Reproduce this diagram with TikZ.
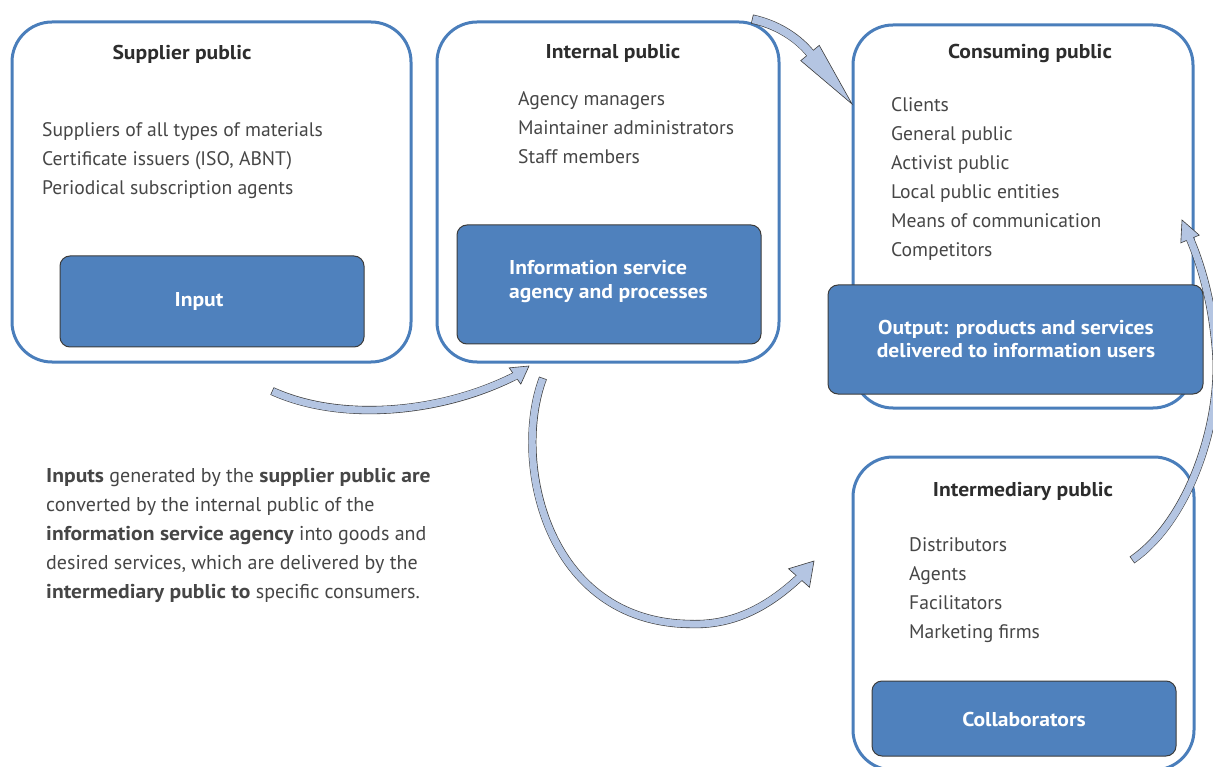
\documentclass[tikz,border=0pt]{standalone}
\usepackage{fontspec}
\setmainfont{PT Sans}[BoldFeatures={FakeStretch=1.08}]
\usetikzlibrary{calc}
\definecolor{boxblue}{RGB}{74,126,187}
\definecolor{fillblue}{RGB}{79,129,189}
\definecolor{arrowfill}{RGB}{180,197,226}
\definecolor{arrline}{RGB}{60,60,60}
\definecolor{txt}{RGB}{70,70,70}
\definecolor{ttl}{RGB}{45,45,45}
\newcommand{\fatarr}[6]{%
  \draw[draw=arrline, line width=#5] #1;
  \filldraw[fill=arrowfill, draw=arrline, line width=0.6pt, line join=miter]
    ($(#2)!#6!90:(#3)$) -- (#3) -- ($(#2)!#6!-90:(#3)$) -- cycle;
  \draw[draw=arrowfill, line width=#4, shorten >=-1.5pt, shorten <=0.7pt] #1;
}
\tikzset{
  outerbox/.style={draw=boxblue, line width=3pt, rounded corners=40pt, fill=white, inner sep=0pt},
  innerbox/.style={draw=arrline, line width=1pt, fill=fillblue, rounded corners=10pt, inner sep=0pt},
  itemtext/.style={text=txt, font=\fontsize{19.6}{29}\selectfont, align=left, inner sep=0pt},
  titletext/.style={text=ttl, font=\fontsize{20}{24}\selectfont\bfseries, inner sep=0pt},
  whitetext/.style={text=white, font=\fontsize{20}{24}\selectfont\bfseries, inner sep=0pt},
  paratext/.style={text=txt, font=\fontsize{20}{29}\selectfont, align=left, inner sep=0pt}
}
\begin{document}
\begin{tikzpicture}[x=1pt,y=-1pt]
\useasboundingbox (0,0) rectangle (1213,767);
\fill[white] (0,0) rectangle (1213,767);

% Supplier public
\node[outerbox, minimum width=399pt, minimum height=340pt] (sup) at (211.5,192) {};
\node[titletext] (supt) at (182,54) {Supplier public};
\node[itemtext, anchor=west] (supi) at (42,160.5) {Suppliers of all types of materials\\Certificate issuers (ISO, ABNT)\\Periodical subscription agents};
\node[innerbox, minimum width=304pt, minimum height=91pt] (inp) at (212,301.5) {};
\node[whitetext] (inpt) at (199,302) {Input};

% Internal public
\node[outerbox, minimum width=342pt, minimum height=340pt] (int) at (608,192) {};
\node[titletext] (intt) at (613,53) {Internal public};
\node[itemtext, anchor=west] (inti) at (518,127.5) {Agency managers\\Maintainer administrators\\Staff members};
\node[innerbox, minimum width=304pt, minimum height=119pt] (isa) at (609,284.5) {};
\node[whitetext, align=left, anchor=west] (isat) at (509,282) {Information service\\agency and processes};

% Consuming public
\node[outerbox, minimum width=340pt, minimum height=383pt] (con) at (1023,216.5) {};
\node[titletext] (cont) at (1030,53) {Consuming public};
\node[itemtext, anchor=west] (coni) at (891,179) {Clients\\General public\\Activist public\\Local public entities\\Means of communication\\Competitors};
\node[innerbox, minimum width=375pt, minimum height=109pt] (out) at (1015.5,339.5) {};
\node[whitetext, align=center] (outt) at (1016,339) {Output: products and services\\delivered to information users};

% Intermediary public
\node[outerbox, minimum width=341pt, minimum height=313pt] (itm) at (1023.5,613.5) {};
\node[titletext] (itmt) at (1023,491) {Intermediary public};
\node[itemtext, anchor=west] (itmi) at (909,590.5) {Distributors\\Agents\\Facilitators\\Marketing firms};
\node[innerbox, minimum width=304pt, minimum height=75pt] (col) at (1024,718.5) {};
\node[whitetext] (colt) at (1024,719) {Collaborators};

% Paragraph
\node[paratext, anchor=west] (para) at (46,535) {\textbf{Inputs} generated by the \textbf{supplier public are}\\converted by the internal public of the\\\textbf{information service agency} into goods and\\desired services, which are delivered by the\\\textbf{intermediary public to} specific consumers.};

% Arrow coordinates
\coordinate (a1s) at (752,19);
\coordinate (a1b) at (810,53);
\coordinate (a1t) at (852,104);
\coordinate (a2s) at (272,391);
\coordinate (a2b) at (515,376);
\coordinate (a2t) at (529,366);
\coordinate (a3s) at (543,378);
\coordinate (a3m) at (690,624);
\coordinate (a3b) at (799,578);
\coordinate (a3t) at (814,561);
\coordinate (a4s) at (1132,560);
\coordinate (a4m) at (1216,350);
\coordinate (a4b) at (1190,239);
\coordinate (a4t) at (1182,220);

\fatarr{(a1s) .. controls (775,24) and (796,36) .. (a1b)}{a1b}{a1t}{8pt}{9.2pt}{12pt}
\fatarr{(a2s) .. controls (340,422) and (440,414) .. (a2b)}{a2b}{a2t}{7pt}{8.2pt}{10pt}
\fatarr{(a3s) .. controls (512,460) and (545,622) .. (a3m) .. controls (740,626) and (775,600) .. (a3b)}{a3b}{a3t}{7pt}{8.2pt}{14pt}
\fatarr{(a4s) .. controls (1190,520) and (1222,420) .. (a4m) .. controls (1212,300) and (1200,262) .. (a4b)}{a4b}{a4t}{7pt}{8.2pt}{10pt}
\end{tikzpicture}
\end{document}
